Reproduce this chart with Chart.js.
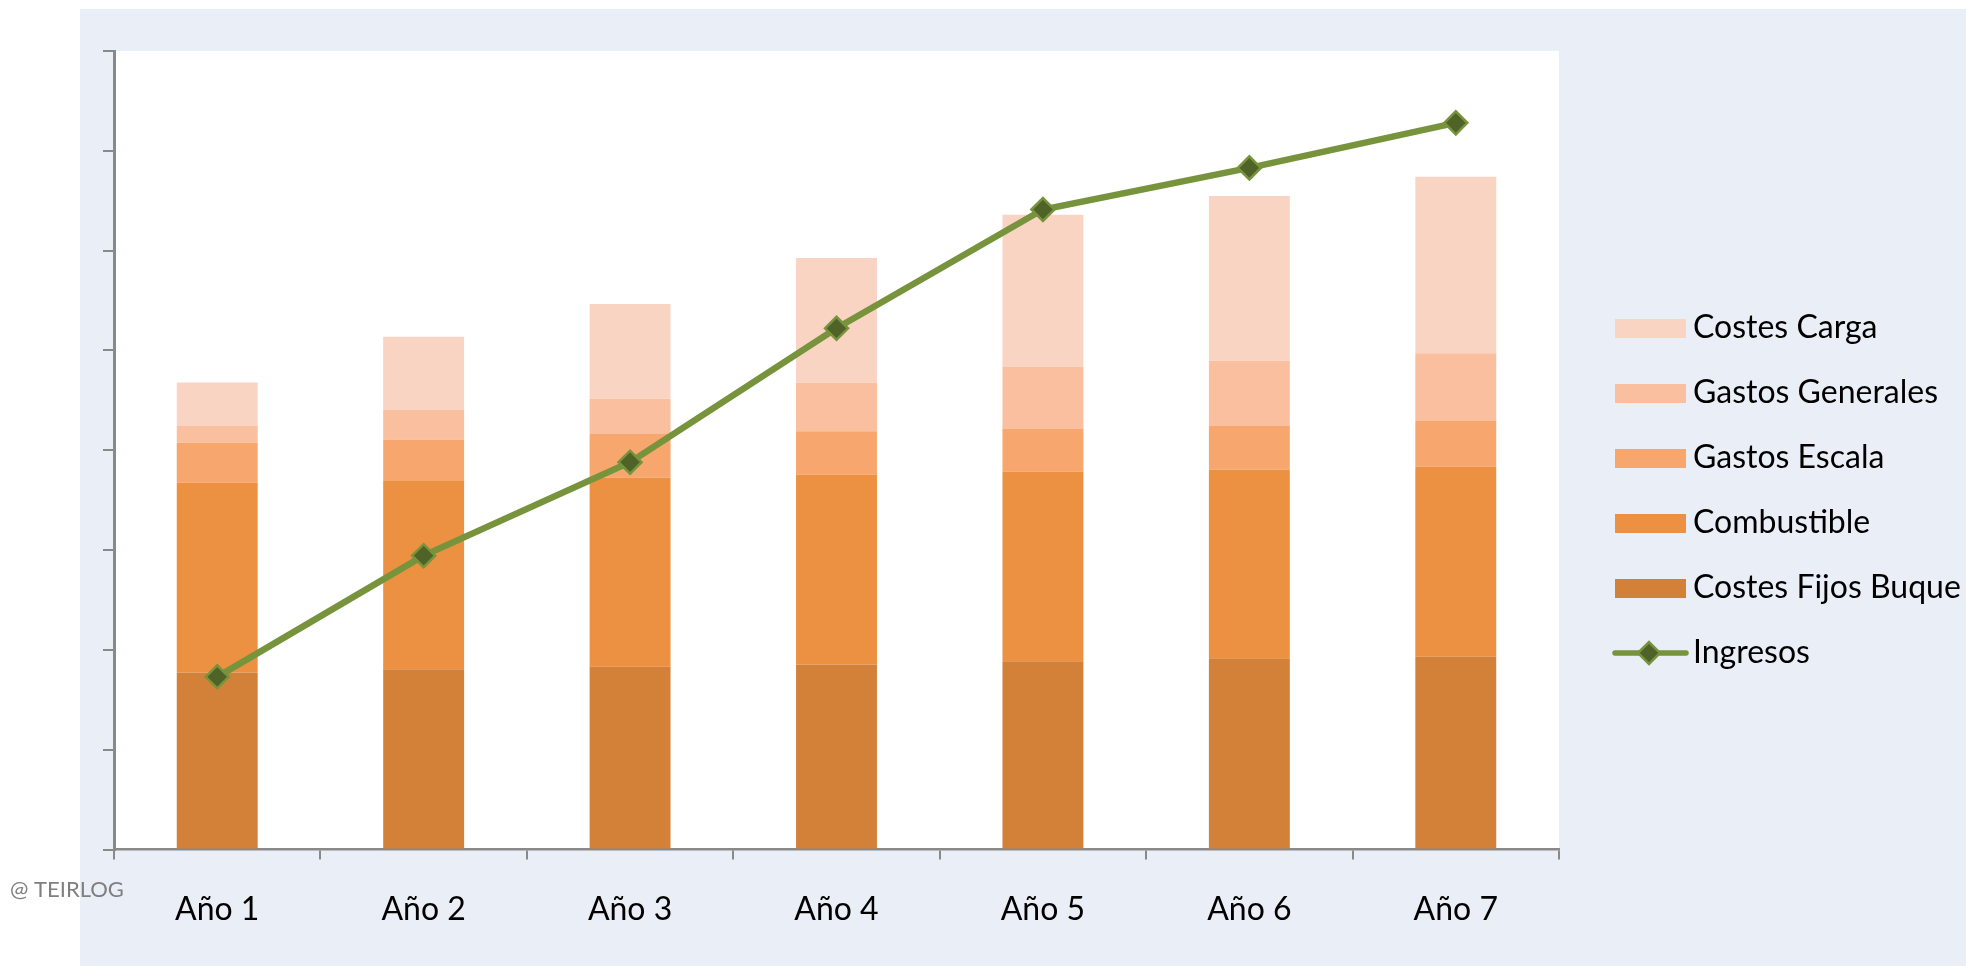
<!DOCTYPE html>
<html>
<head>
<meta charset="utf-8">
<script src="https://cdn.jsdelivr.net/npm/chart.js@4.4.1/dist/chart.umd.min.js"></script>
<style>
html,body{margin:0;padding:0;background:#ffffff;}
#wrap{position:relative;width:1966px;height:966px;}
</style>
</head>
<body>
<div id="wrap"><canvas id="c"></canvas></div>
<script>
// ---- data ----
const categories = ['Año 1', 'Año 2', 'Año 3', 'Año 4', 'Año 5', 'Año 6', 'Año 7'];
const costesFijosBuque = [177.3, 180.5, 183.1, 185.4, 188.6, 191.5, 193.1];
const combustible      = [190.4, 188.6, 189.7, 190.2, 189.9, 189.0, 190.5];
const gastosEscala     = [39.7, 41.6, 43.4, 43.4, 43.3, 43.7, 45.8];
const gastosGenerales  = [16.8, 29.7, 35.4, 48.7, 62.1, 65.5, 67.8];
const costesCarga      = [43.7, 73.3, 94.8, 124.8, 152.0, 165.1, 176.7];
const ingresos         = [173.0, 294.4, 388.0, 522.2, 641.2, 682.9, 728.0];
const yMin = 0, yMax = 800, yStep = 100;
const legendOrder = ['Costes Carga', 'Gastos Generales', 'Gastos Escala', 'Combustible', 'Costes Fijos Buque', 'Ingresos'];

// ---- styles ----
const COLORS = {
  fijos: '#D38039', comb: '#EC9142', escala: '#F7A76E', gen: '#F9BF9F', carga: '#FAD4C3',
  line: '#77933C', marker: '#4F6228', axis: '#898989', panel: '#EAEFF7'
};
const FONT = 'Lato';
const LEG_FONT = 32;
const LEG_W = 85 - LEG_FONT;   // layout width of legend marker
const LEG_PAD = 65 - LEG_FONT; // row pitch 65

const iconCache = {};
function boxIcon(color) {
  if (iconCache[color]) return iconCache[color];
  const c = document.createElement('canvas'); c.width = 71; c.height = 19;
  const g = c.getContext('2d'); g.fillStyle = color; g.fillRect(0, 0, 71, 19);
  return (iconCache[color] = c);
}
function lineIcon() {
  if (iconCache.line) return iconCache.line;
  const c = document.createElement('canvas'); c.width = 77; c.height = 30;
  const g = c.getContext('2d');
  g.strokeStyle = COLORS.line; g.lineWidth = 5.5; g.lineCap = 'round';
  g.beginPath(); g.moveTo(3, 15); g.lineTo(74, 15); g.stroke();
  const r = 11, cx = 37, cy = 15;
  g.beginPath(); g.moveTo(cx - r, cy); g.lineTo(cx, cy - r); g.lineTo(cx + r, cy); g.lineTo(cx, cy + r); g.closePath();
  g.fillStyle = COLORS.marker; g.fill(); g.lineWidth = 2.5; g.strokeStyle = COLORS.line; g.stroke();
  return (iconCache.line = c);
}

const panelPlugin = {
  id: 'panel',
  beforeDraw(chart) {
    const {ctx, chartArea: a} = chart;
    ctx.save();
    ctx.fillStyle = '#FFFFFF'; ctx.fillRect(0, 0, chart.width, chart.height);
    ctx.fillStyle = COLORS.panel; ctx.fillRect(80, 9, chart.width - 80, chart.height - 9);
    ctx.fillStyle = '#FFFFFF'; ctx.fillRect(a.left, a.top, a.right - a.left, a.bottom - a.top);
    ctx.restore();
  },
  afterDraw(chart) {
    const ctx = chart.ctx;
    ctx.save();
    ctx.font = '22px ' + FONT;
    ctx.fillStyle = '#7F7F7F';
    ctx.textBaseline = 'middle';
    ctx.textAlign = 'left';
    ctx.fillText('@ TEIRLOG', 10, 890);
    ctx.restore();
  }
};

const legendPlace = {
  id: 'legendPlace',
  afterLayout(chart) {
    const L = chart.legend;
    if (!L || !L.columnSizes || !L.columnSizes.length) return;
    const pad = L.options.labels.padding;
    const colH = L.columnSizes[0].height;
    const x0 = 1650.5 - LEG_W / 2;
    const y0 = 312;
    L.left = x0 - pad; L.right = chart.width; L.width = L.right - L.left;
    L.top = y0 - pad; L.bottom = y0 + colH; L.height = L.bottom - L.top;
  }
};

function barDs(label, data, color) {
  return {
    type: 'bar', label, data, backgroundColor: color, borderWidth: 0,
    stack: 'costes', barPercentage: 0.392, categoryPercentage: 1.0
  };
}

function build() {
  new Chart(document.getElementById('c'), {
    data: {
      labels: categories,
      datasets: [
        {
          type: 'line', label: 'Ingresos', data: ingresos, stack: 'ingresos',
          borderColor: COLORS.line, borderWidth: 6.5, tension: 0, fill: false,
          pointStyle: 'rectRot', pointRadius: 11.5, pointHoverRadius: 11.5,
          pointBackgroundColor: COLORS.marker, pointBorderColor: COLORS.line, pointBorderWidth: 2.5
        },
        barDs('Costes Fijos Buque', costesFijosBuque, COLORS.fijos),
        barDs('Combustible', combustible, COLORS.comb),
        barDs('Gastos Escala', gastosEscala, COLORS.escala),
        barDs('Gastos Generales', gastosGenerales, COLORS.gen),
        barDs('Costes Carga', costesCarga, COLORS.carga)
      ]
    },
    options: {
      responsive: true,
      maintainAspectRatio: false,
      devicePixelRatio: 1,
      animation: false,
      layout: { padding: { left: 80, top: 51, right: 107, bottom: 0 } },
      scales: {
        x: {
          stacked: true,
          afterFit(scale) { scale.height = 116.5; },
          grid: { display: true, drawOnChartArea: false, drawTicks: true, tickLength: 10, color: COLORS.axis, lineWidth: 2, offset: true },
          border: { display: true, color: COLORS.axis, width: 2.5 },
          ticks: { color: '#000000', font: { family: FONT, size: 32 }, padding: 31, maxRotation: 0, autoSkip: false }
        },
        y: {
          stacked: true,
          min: yMin, max: yMax,
          afterFit(scale) { scale.width = 34; },
          grid: { display: true, drawOnChartArea: false, drawTicks: true, tickLength: 11, color: COLORS.axis, lineWidth: 2 },
          border: { display: true, color: COLORS.axis, width: 3 },
          ticks: { display: false, stepSize: yStep }
        }
      },
      plugins: {
        tooltip: { enabled: false },
        legend: {
          display: true,
          position: 'right',
          maxWidth: 300,
          labels: {
            usePointStyle: true,
            pointStyleWidth: LEG_W,
            boxHeight: 19,
            padding: LEG_PAD,
            color: '#000000',
            font: { family: FONT, size: LEG_FONT },
            generateLabels(chart) {
              const items = Chart.defaults.plugins.legend.labels.generateLabels(chart);
              items.forEach(it => {
                const ds = chart.data.datasets[it.datasetIndex];
                it.pointStyle = ds.type === 'line' ? lineIcon() : boxIcon(ds.backgroundColor);
              });
              items.sort((a, b) => legendOrder.indexOf(a.text) - legendOrder.indexOf(b.text));
              return items;
            }
          }
        }
      }
    },
    plugins: [panelPlugin, legendPlace]
  });
}

if (document.fonts && document.fonts.load) {
  Promise.all([document.fonts.load('32px ' + FONT), document.fonts.load('22px ' + FONT)]).then(build, build);
} else { build(); }
</script>
</body>
</html>
